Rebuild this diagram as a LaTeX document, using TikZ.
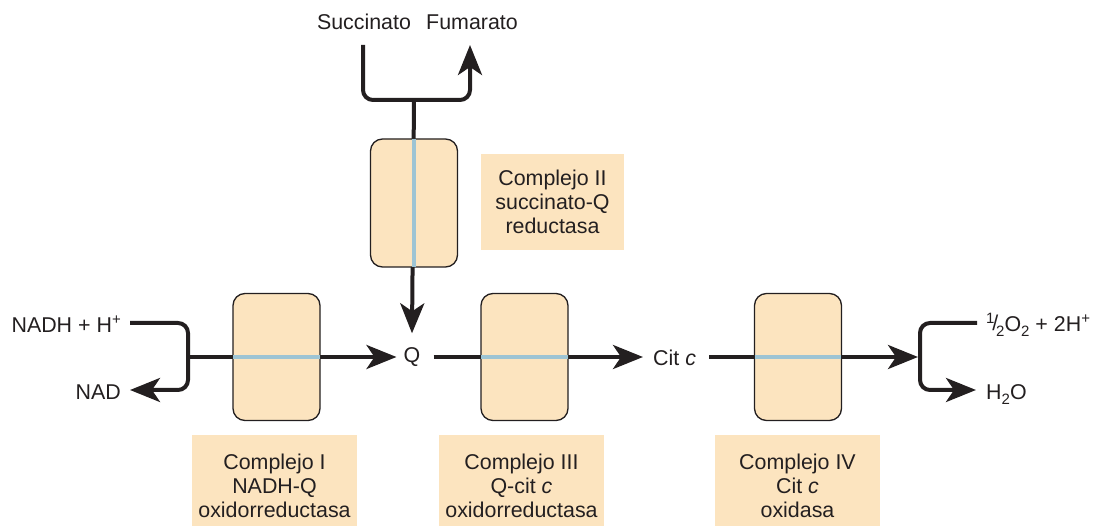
\documentclass[tikz,border=0pt]{standalone}
\usepackage{fontspec}
\setmainfont{Liberation Sans}
\usetikzlibrary{arrows.meta}
\definecolor{peach}{HTML}{FCE4BF}
\definecolor{membrane}{HTML}{9DC4D4}
\definecolor{ink}{HTML}{231F20}
\newcommand\supx[1]{\raisebox{0.42em}{\fontsize{15}{15}\selectfont #1}}
\newcommand\subx[1]{\raisebox{-0.22em}{\fontsize{15}{15}\selectfont #1}}
\begin{document}
\begin{tikzpicture}[x=1pt,y=-1pt,
  txt/.style={font=\fontsize{21.4}{24}\selectfont, text=ink, inner sep=0pt},
  complexbox/.style={draw=ink, line width=1.3pt, fill=peach, rounded corners=12pt,
    minimum width=87pt, minimum height=127pt, inner sep=0pt},
  labelbox/.style={txt, fill=peach, align=center, minimum width=165pt, minimum height=102pt},
  flow/.style={draw=ink, line width=4pt, rounded corners=10pt},
  tip/.style={-{Stealth[length=30pt,width=24pt,inset=8pt]}},
  memb/.style={draw=membrane, line width=4pt, shorten <=0.7pt, shorten >=0.7pt}]
\useasboundingbox (0,0) rectangle (1098,526);

% text nodes
\node[txt, anchor=base east] (nadh) at (121,333) {NADH + H\supx{+}};
\node[txt, anchor=base east] (nad) at (121,400) {NAD};
\node[txt, inner sep=7pt] (Q) at (412,357) {Q};
\node[txt, anchor=base west] (cit) at (653,366) {Cit \textit{c}};
\node[txt, anchor=base west] (o2) at (986,332) {\supx{1}\kern-0.1em\raisebox{0.05em}{/}\kern-0.1em\subx{2}O\subx{2} + 2H\supx{+}};
\node[txt, anchor=base west] (h2o) at (986,400) {H\subx{2}O};
\node[txt, anchor=base] (succ) at (364,30) {Succinato};
\node[txt, anchor=base] (fum) at (472,30) {Fumarato};

% coordinates
\coordinate (nadhend) at (130,323);
\coordinate (nadend) at (130,390);
\coordinate (j1) at (188,357);
\coordinate (succend) at (363,45);
\coordinate (fumend) at (470,45);
\coordinate (j2) at (414,100);
\coordinate (j3) at (918,357);
\coordinate (o2end) at (977,323);
\coordinate (h2oend) at (976,390);

% connectors
\draw[flow, tip] (nadhend) -- (j1 |- nadhend) -- (j1 |- nadend) -- (nadend);
\draw[flow, tip] (j1) -- (Q.west);
\draw[flow, tip] (succend) -- (succend |- j2) -- (fumend |- j2) -- (fumend);
\draw[flow, tip] (j2) -- ([yshift=7pt]Q.north);
\draw[flow, tip] ([xshift=6pt]Q.east) -- ([xshift=-10pt]cit.west |- Q.east);
\draw[flow, tip] ([xshift=13pt]cit.east |- Q.east) -- (j3);
\draw[flow, tip] (o2end) -- (920,323) -- (920,390) -- (h2oend);

% complexes
\node[complexbox] (c1) at (276.5,357) {};
\node[complexbox, minimum height=128pt] (c2) at (414,203) {};
\node[complexbox] (c3) at (524.5,357) {};
\node[complexbox] (c4) at (798,357) {};
\draw[memb] (c1.west) -- (c1.east);
\draw[memb] (c2.north) -- (c2.south);
\draw[memb] (c3.west) -- (c3.east);
\draw[memb] (c4.west) -- (c4.east);

% labels
\node[labelbox, minimum width=143pt, minimum height=96pt] (l2) at (552.5,202) {Complejo II\\succinato-Q\\reductasa};
\node[labelbox] (l1) at (274.5,486) {Complejo I\\NADH-Q\\oxidorreductasa};
\node[labelbox] (l3) at (521.5,486) {Complejo III\\Q-cit \textit{c}\\oxidorreductasa};
\node[labelbox] (l4) at (797.5,486) {Complejo IV\\Cit \textit{c}\\oxidasa};
\end{tikzpicture}
\end{document}
